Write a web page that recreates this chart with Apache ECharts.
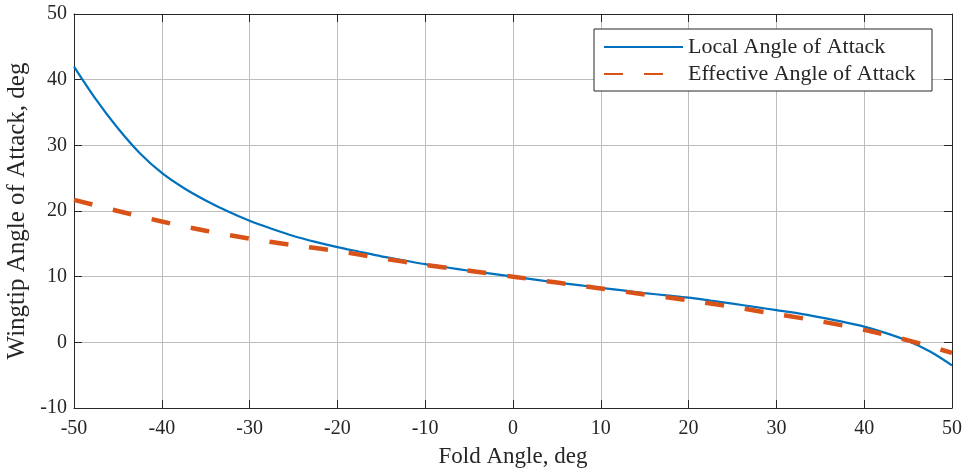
<!DOCTYPE html>
<html>
<head>
<meta charset="utf-8">
<script src="https://cdn.jsdelivr.net/npm/echarts@6/dist/echarts.min.js"></script>
<style>html,body{margin:0;padding:0;background:#fff}#c{width:966px;height:471px}</style>
</head>
<body>
<div id="c"></div>
<script>
const localX = [-50, -47.5, -45, -42.5, -40, -37.5, -35, -32.5, -30, -27.5, -25, -22.5, -20, -17.5, -15, -12.5, -10, -7.5, -5, -2.5, 0, 2.5, 5, 7.5, 10, 12.5, 15, 17.5, 20, 22.5, 25, 27.5, 30, 32.5, 35, 37.5, 40, 42.5, 45, 47.5, 50];
const localY = [42.0, 37.0, 32.6, 28.8, 25.8, 23.5, 21.6, 19.95, 18.5, 17.3, 16.2, 15.3, 14.5, 13.8, 13.1, 12.5, 11.9, 11.4, 10.9, 10.45, 10.0, 9.55, 9.1, 8.7, 8.3, 7.9, 7.5, 7.15, 6.8, 6.35, 5.9, 5.4, 4.9, 4.4, 3.8, 3.15, 2.4, 1.4, 0.2, -1.4, -3.5];
const effX = [-50, -45, -40, -35, -30, -25, -20, -15, -10, -5, 0, 5, 10, 15, 20, 25, 30, 35, 40, 45, 50];
const effY = [21.7, 20.0, 18.4, 17.0, 15.8, 14.8, 13.9, 12.8, 11.8, 10.9, 10.0, 9.1, 8.2, 7.3, 6.4, 5.4, 4.3, 3.2, 1.9, 0.3, -1.6];
const seriesNames = ['Local Angle of Attack', 'Effective Angle of Attack'];
const xAxisName = 'Fold Angle, deg';
const yAxisName = 'Wingtip Angle of Attack, deg';

const font = '"Liberation Serif", "DejaVu Serif", serif';
const ink = '#262626';
const chart = echarts.init(document.getElementById('c'), null, {renderer: 'canvas'});
const axisCommon = {
  axisLine: {show: true, onZero: false, lineStyle: {color: ink, width: 1}},
  axisTick: {show: true, inside: true, length: 8, lineStyle: {color: ink}},
  axisLabel: {color: ink, fontFamily: font, fontSize: 20},
  splitLine: {show: true, lineStyle: {color: '#bdbdbd', width: 1}}
};
chart.setOption({
  animation: false,
  backgroundColor: '#fff',
  grid: {left: 74, right: 14, top: 14, bottom: 63, containLabel: false, outerBoundsMode: 'none'},
  legend: {
    orient: 'vertical', left: 594, top: 29,
    padding: [7, 9, 6, 9], itemGap: 5, itemWidth: 79, itemHeight: 14,
    borderColor: ink, borderWidth: 1, backgroundColor: '#fff', borderRadius: 0,
    itemStyle: {opacity: 0},
    textStyle: {fontFamily: font, fontSize: 22, color: ink, width: 235, lineHeight: 22},
    data: seriesNames
  },
  xAxis: [
    Object.assign({}, axisCommon, {
      type: 'value', min: -50, max: 50, interval: 10, position: 'bottom',
      name: xAxisName, nameLocation: 'middle', nameGap: 37,
      nameTextStyle: {fontFamily: font, fontSize: 23, color: ink},
      axisLabel: Object.assign({}, axisCommon.axisLabel, {margin: 11})
    }),
    Object.assign({}, axisCommon, {
      type: 'value', min: -50, max: 50, interval: 10, position: 'top',
      axisLabel: {show: false}, splitLine: {show: false}
    })
  ],
  yAxis: [
    Object.assign({}, axisCommon, {
      type: 'value', min: -10, max: 50, interval: 10, position: 'left',
      name: yAxisName, nameLocation: 'middle', nameGap: 40,
      nameTextStyle: {fontFamily: font, fontSize: 25, color: ink},
      axisLabel: Object.assign({}, axisCommon.axisLabel, {margin: 7})
    }),
    Object.assign({}, axisCommon, {
      type: 'value', min: -10, max: 50, interval: 10, position: 'right',
      axisLabel: {show: false}, splitLine: {show: false}
    })
  ],
  series: [
    {
      name: seriesNames[0], type: 'line', symbol: 'none', smooth: 0.3,
      data: localX.map((x, i) => [x, localY[i]]),
      lineStyle: {color: '#0072BD', width: 2.2}, itemStyle: {color: '#0072BD'}, z: 3
    },
    {
      name: seriesNames[1], type: 'line', symbol: 'none', smooth: 0.3,
      data: effX.map((x, i) => [x, effY[i]]),
      lineStyle: {color: '#D95319', width: 4.5, type: [19, 21]}, itemStyle: {color: '#D95319'}, z: 4
    }
  ]
});
</script>
</body>
</html>
